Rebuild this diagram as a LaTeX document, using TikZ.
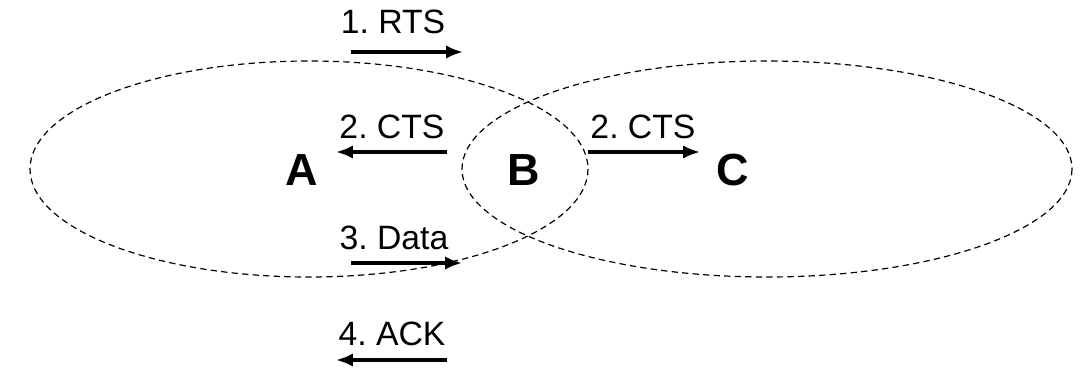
\documentclass[tikz,border=0pt]{standalone}
\usepackage{fontspec}
\setmainfont{Liberation Sans}
\usetikzlibrary{arrows.meta}
\frenchspacing

\tikzset{
    zone/.style={draw, dashed, dash pattern=on 4.5pt off 3pt, line width=0.85pt},
    msg/.style={-{Latex[length=12pt,width=9.5pt]}, line width=2.2pt},
    msglabel/.style={font=\fontsize{24}{27}\selectfont, inner sep=0pt},
    station/.style={font=\fontsize{32}{35}\selectfont\bfseries, inner sep=0pt}
}

\begin{document}
\begin{tikzpicture}[x=0.025cm, y=-0.025cm]
    \useasboundingbox (0,0) rectangle (1083,373);
    \draw[zone] (309,169) ellipse [x radius=279, y radius=108];
    \draw[zone] (767,169) ellipse [x radius=305, y radius=108];
    \node[station] (A) at (302,170) {A};
    \node[station] (B) at (524,170) {B};
    \node[station] (C) at (733,170) {C};
    \coordinate (rts1) at (351,52);
    \coordinate (rts2) at (463,52);
    \coordinate (ctsa1) at (447,152);
    \coordinate (ctsa2) at (336,152);
    \coordinate (ctsc1) at (588,152);
    \coordinate (ctsc2) at (700,152);
    \coordinate (data1) at (351,263);
    \coordinate (data2) at (462,263);
    \coordinate (ack1) at (447,360);
    \coordinate (ack2) at (336,360);
    \draw[msg] (rts1) -- (rts2);
    \draw[msg] (ctsa1) -- (ctsa2);
    \draw[msg] (ctsc1) -- (ctsc2);
    \draw[msg] (data1) -- (data2);
    \draw[msg] (ack1) -- (ack2);
    \node[msglabel] (lrts) at (393,22) {1. RTS};
    \node[msglabel] (lctsa) at (392,127) {2. CTS};
    \node[msglabel] (lctsc) at (643,127) {2. CTS};
    \node[msglabel] (ldata) at (394,238) {3. Data};
    \node[msglabel] (lack) at (392,334) {4. ACK};
\end{tikzpicture}
\end{document}
